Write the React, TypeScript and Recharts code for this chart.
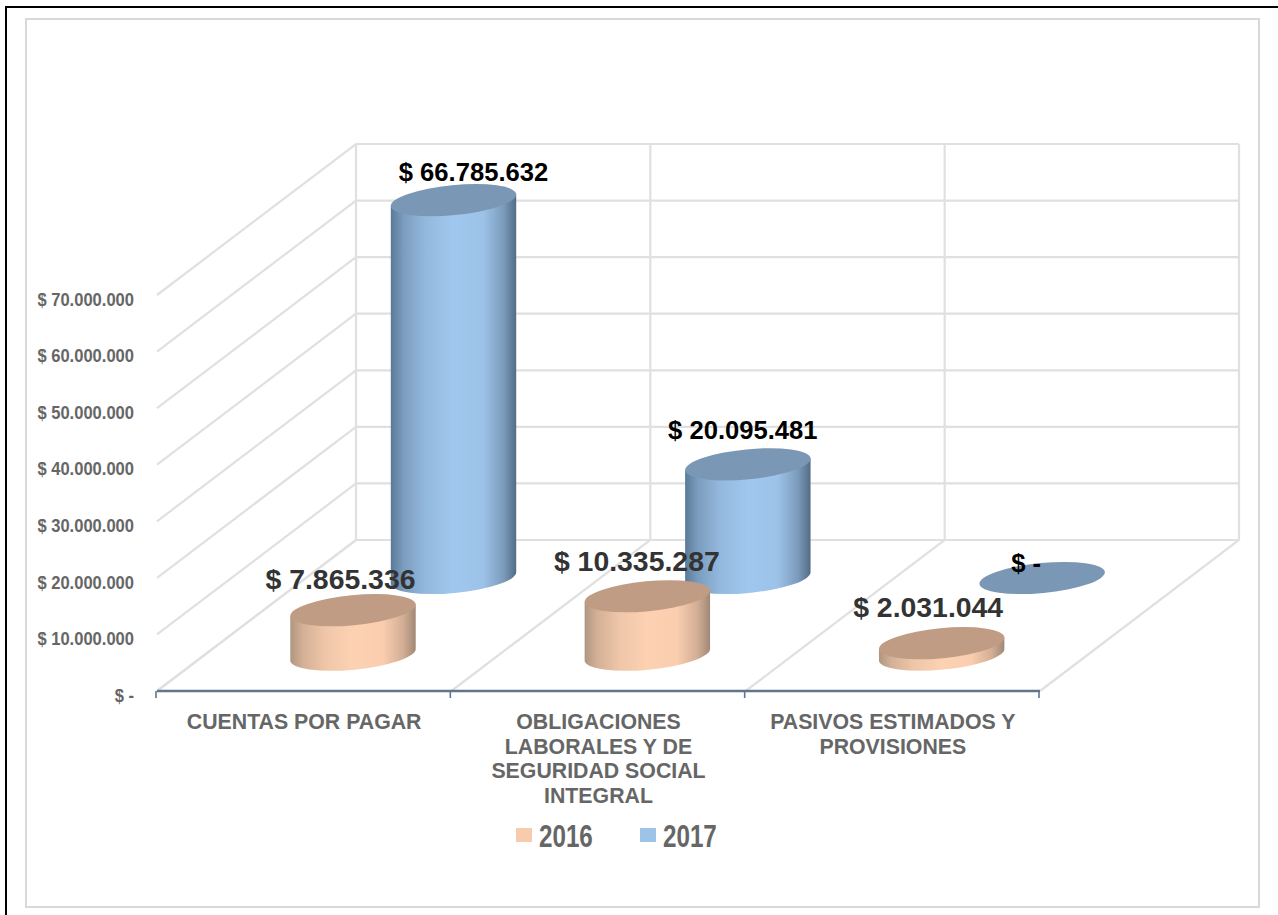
import { Bar, CartesianGrid, ComposedChart, LabelList, Legend, Text, XAxis, YAxis } from 'recharts';

const categories = [
    'CUENTAS POR PAGAR',
    'OBLIGACIONES LABORALES Y DE SEGURIDAD SOCIAL INTEGRAL',
    'PASIVOS ESTIMADOS Y PROVISIONES',
];
const values2016 = [7865336, 10335287, 2031044];
const values2017 = [66785632, 20095481, 0];
const yTicks = [0, 10000000, 20000000, 30000000, 40000000, 50000000, 60000000, 70000000];

const chartData = categories.map((name, i) => ({
    name,
    y2016: values2016[i],
    y2017: values2017[i],
}));

// fake 3D depth
const WALL_DX = 199;
const WALL_DY = -151;
const TILT = 5.5;
const RY = 15;
const GRID = '#e0e0e0';
const ARIAL = '"Liberation Sans", Arial, sans-serif';

const money = (v: number) => (v === 0 ? '$ -' : '$ ' + v.toLocaleString('de-DE'));

function makeCylinder(dx: number, shift: number, gradient: string, topFill: string) {
    return function Cylinder(props: any) {
        const { x, y, width, height } = props;
        const cx = x + width / 2 + dx;
        const top = y + shift;
        const bottom = top + height;
        const rx = width / 2;
        const ex = rx * Math.cos((TILT * Math.PI) / 180);
        const ey = rx * Math.sin((TILT * Math.PI) / 180);
        return (
            <g>
                {height > 0 && (
                    <path
                        d={`M${cx - ex},${top + ey} L${cx - ex},${bottom + ey} A${rx},${RY} ${-TILT} 0 0 ${cx + ex},${bottom - ey} L${cx + ex},${top - ey} Z`}
                        fill={`url(#${gradient})`}
                    />
                )}
                <ellipse cx={cx} cy={top} rx={rx} ry={RY} fill={topFill} transform={`rotate(${-TILT} ${cx} ${top})`} />
            </g>
        );
    };
}

function makeLabel(dx: number, shift: number, nudge: number[][], size: number, color: string) {
    return function ValueLabel(props: any) {
        const { viewBox, value, index } = props;
        const cx = viewBox.x + viewBox.width / 2 + dx + nudge[index][0];
        const cy = viewBox.y + shift + nudge[index][1];
        return (
            <text x={cx} y={cy} dy="0.36em" textAnchor="middle" fontFamily={ARIAL} fontWeight={700} fontSize={size} fill={color}>
                {money(Number(value))}
            </text>
        );
    };
}

const HorizontalLine = (props: any) => {
    const { x1, x2, y1 } = props;
    return (
        <path
            d={`M${x1},${y1} L${x1 + WALL_DX},${y1 + WALL_DY} L${x2 + WALL_DX},${y1 + WALL_DY}`}
            fill="none"
            stroke={GRID}
            strokeWidth={2.2}
        />
    );
};

const VerticalLine = (props: any) => {
    const { x1, y1, y2 } = props;
    return (
        <g>
            <path
                d={`M${x1},${y2} L${x1 + WALL_DX},${y2 + WALL_DY} L${x1 + WALL_DX},${y1 + WALL_DY}`}
                fill="none"
                stroke={GRID}
                strokeWidth={2.2}
            />
            <line x1={x1 - 1} x2={x1 - 1} y1={y2} y2={y2 + 7} stroke="#5f7590" strokeWidth={1.6} />
        </g>
    );
};

// no narrow font installed, so squeeze the Liberation glyphs
const YTick = (props: any) => {
    const { x, y, payload } = props;
    return (
        <text
            transform={`translate(${x} ${y + 4}) scale(0.89 1)`}
            dy="0.36em"
            textAnchor="end"
            fontFamily={ARIAL}
            fontWeight={700}
            fontSize={18.6}
            fill="#666666"
        >
            {money(payload.value)}
        </text>
    );
};

const CATEGORY_FONT = { fontFamily: ARIAL, fontWeight: 700, fontSize: 21.3 };

const CategoryTick = (props: any) => {
    const { x, y, payload } = props;
    return (
        <Text
            x={x}
            y={y}
            width={210}
            textAnchor="middle"
            verticalAnchor="start"
            lineHeight={24.6}
            style={CATEGORY_FONT}
            fill="#666666"
        >
            {payload.value}
        </Text>
    );
};

const LegendContent = (props: any) => {
    const items = [...(props.payload || [])].sort((a: any, b: any) => String(a.value).localeCompare(String(b.value)));
    return (
        <div style={{ display: 'flex', justifyContent: 'center', alignItems: 'center', gap: 47 }}>
            {items.map((it: any) => (
                <div key={it.value} style={{ display: 'flex', alignItems: 'center', gap: 7 }}>
                    <span style={{ width: 16, height: 14, background: it.color, display: 'inline-block', marginTop: -4 }} />
                    <span
                        style={{
                            display: 'inline-block',
                            width: 54,
                            fontFamily: ARIAL,
                            fontWeight: 700,
                            fontSize: 31,
                            color: '#666666',
                            lineHeight: '34px',
                            transform: 'scaleX(0.78)',
                            transformOrigin: 'left center',
                        }}
                    >
                        {it.value}
                    </span>
                </div>
            ))}
        </div>
    );
};

export default function App() {
    return (
        <div style={{ position: 'absolute', left: 0, top: 0, width: 1278, height: 915, background: '#fff' }}>
            <div style={{ position: 'absolute', left: 5, top: 6, right: 0, bottom: 0, borderLeft: '2px solid #000', borderTop: '2px solid #000' }} />
            <div style={{ position: 'absolute', left: 25, top: 18, width: 1231, height: 886, border: '2px solid #d9d9d9' }} />
            <div style={{ position: 'absolute', left: 0, top: 0 }}>
                <ComposedChart
                    width={1278}
                    height={915}
                    data={chartData}
                    margin={{ top: 295, right: 238, bottom: 0, left: 0 }}
                >
                    <defs>
                        <linearGradient id="blueBody" x1="0" x2="1" y1="0" y2="0">
                            <stop offset="0" stopColor="#5a7a98" />
                            <stop offset="0.1" stopColor="#7b9cbe" />
                            <stop offset="0.28" stopColor="#94b9de" />
                            <stop offset="0.5" stopColor="#a0c7ee" />
                            <stop offset="0.74" stopColor="#9cc2e8" />
                            <stop offset="0.9" stopColor="#7b9bbb" />
                            <stop offset="1" stopColor="#536c85" />
                        </linearGradient>
                        <linearGradient id="peachBody" x1="0" x2="1" y1="0" y2="0">
                            <stop offset="0" stopColor="#b09680" />
                            <stop offset="0.1" stopColor="#d3b096" />
                            <stop offset="0.28" stopColor="#efc6a9" />
                            <stop offset="0.5" stopColor="#fdd2b3" />
                            <stop offset="0.74" stopColor="#f9cdae" />
                            <stop offset="0.9" stopColor="#d2ae95" />
                            <stop offset="1" stopColor="#a08876" />
                        </linearGradient>
                    </defs>
                    <CartesianGrid
                        xAxisId="front"
                        stroke={GRID}
                        horizontal={HorizontalLine}
                        vertical={VerticalLine}
                        verticalCoordinatesGenerator={({ offset }: any) =>
                            [0, 1, 2, 3].map((i) => offset.left + (i * offset.width) / 3)
                        }
                    />
                    <XAxis
                        xAxisId="front"
                        dataKey="name"
                        height={224}
                        interval={0}
                        axisLine={{ stroke: '#5f7590', strokeWidth: 2.6 }}
                        tickLine={false}
                        tickSize={0}
                        tickMargin={23}
                        tick={CategoryTick}
                    />
                    <XAxis xAxisId="back" dataKey="name" height={0} hide />
                    <YAxis
                        width={157}
                        domain={[0, 70000000]}
                        ticks={yTicks}
                        axisLine={false}
                        tickLine={false}
                        tickSize={0}
                        tickMargin={23}
                        tick={YTick}
                    />
                    <Bar
                        xAxisId="back"
                        dataKey="y2017"
                        name="2017"
                        fill="#9DC3E6"
                        barSize={126}
                        isAnimationActive={false}
                        shape={makeCylinder(149.5, -113, 'blueBody', '#7a98b5')}
                    >
                        <LabelList
                            dataKey="y2017"
                            content={makeLabel(149.5, -113, [[20, -28.4], [-5, -35], [-16, -15]], 25.6, '#000000')}
                        />
                    </Bar>
                    <Bar
                        xAxisId="front"
                        dataKey="y2016"
                        name="2016"
                        fill="#F8CBAD"
                        barSize={126}
                        isAnimationActive={false}
                        shape={makeCylinder(49, -36.3, 'peachBody', '#c19c84')}
                    >
                        <LabelList
                            dataKey="y2016"
                            content={makeLabel(49, -36.3, [[-12.5, -31.5], [-10.5, -35], [-13.5, -36]], 28.4, '#333333')}
                        />
                    </Bar>
                    <Legend
                        layout="horizontal"
                        verticalAlign="middle"
                        align="center"
                        wrapperStyle={{ left: 0, top: 820, width: 1232 }}
                        content={LegendContent}
                    />
                </ComposedChart>
            </div>
        </div>
    );
}
